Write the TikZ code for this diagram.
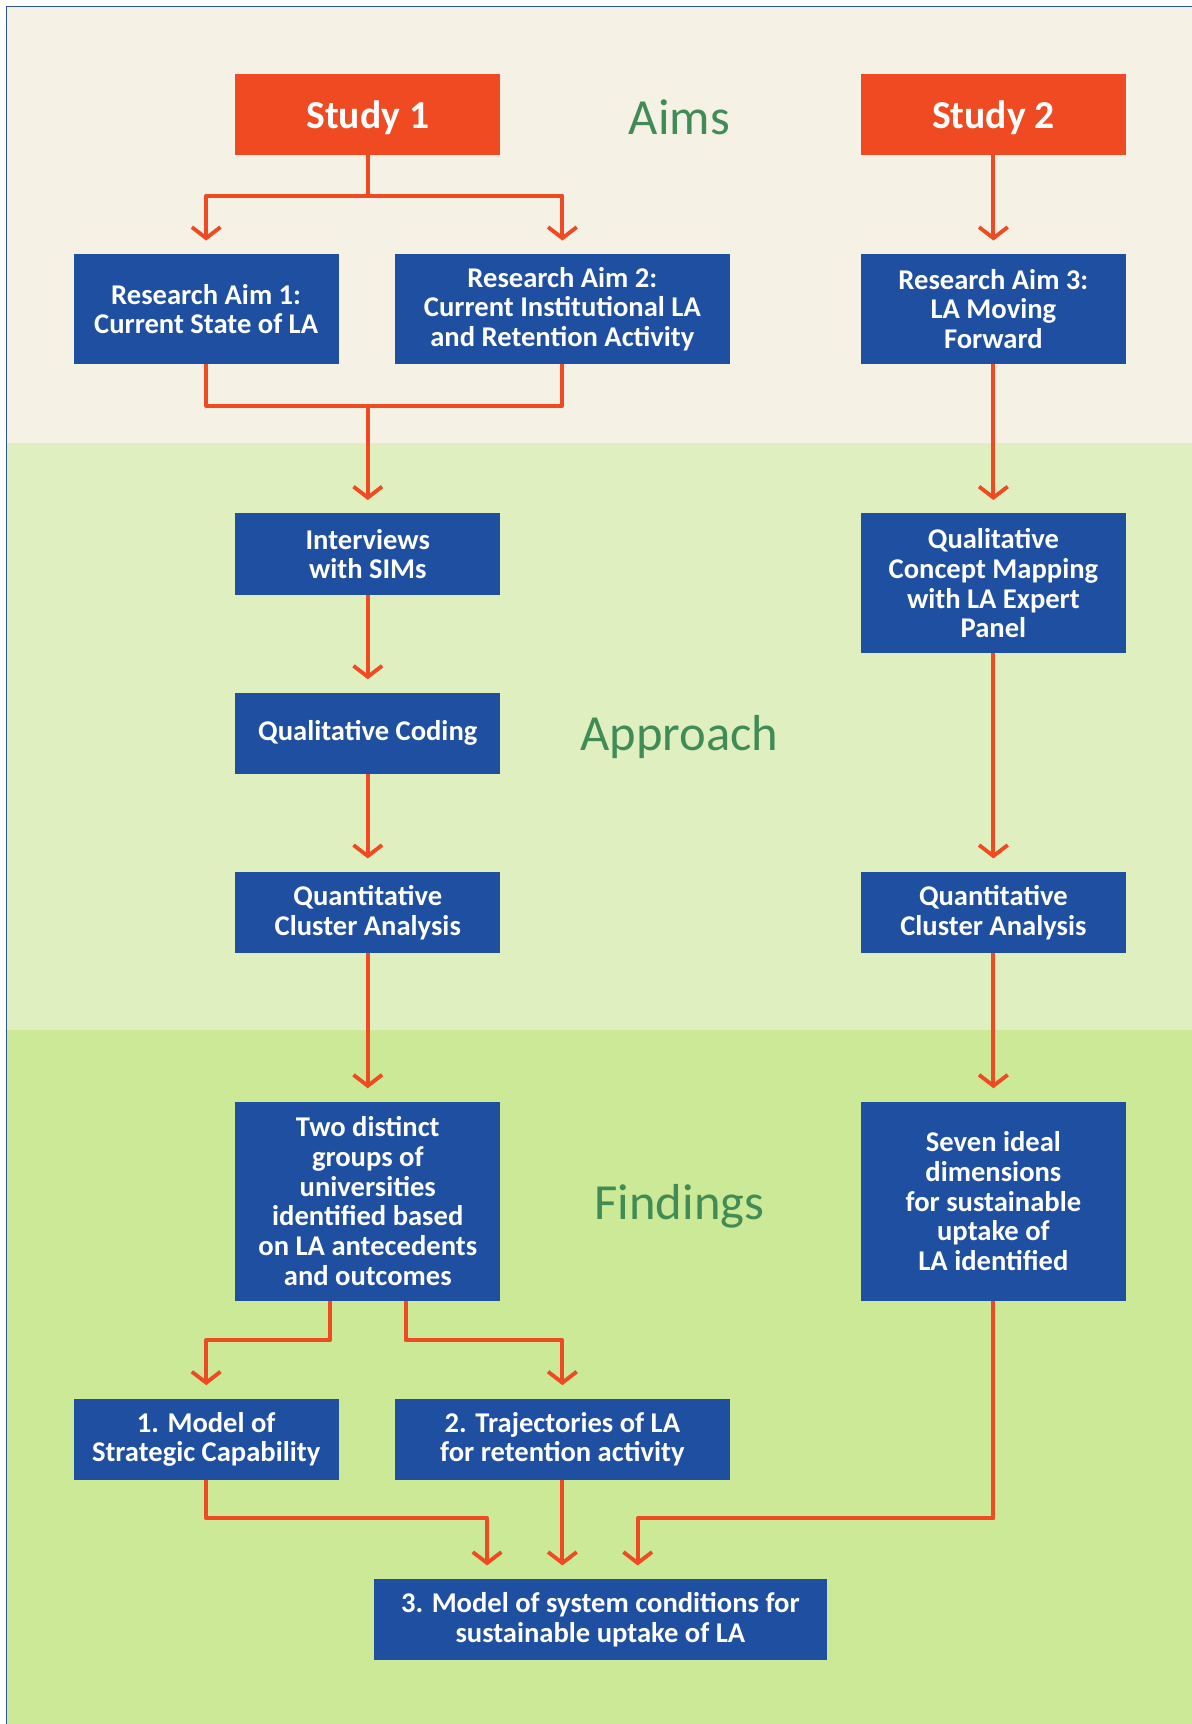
\documentclass[tikz,border=0pt]{standalone}
\usepackage{fontspec}
\setmainfont{Carlito}
\usetikzlibrary{arrows.meta}

\definecolor{studyred}{HTML}{EF4A21}
\definecolor{boxblue}{HTML}{1F4FA0}
\definecolor{bandcream}{HTML}{F5F1E5}
\definecolor{bandlight}{HTML}{E0EFC0}
\definecolor{bandgreen}{HTML}{CBE996}
\definecolor{labelgreen}{HTML}{418C56}
\definecolor{framblue}{HTML}{2F5597}

\tikzset{
  studybox/.style={fill=studyred, text=white, minimum width=241pt, minimum height=74pt,
    inner sep=0pt, text depth=0pt, font=\bfseries\fontsize{36}{40}\selectfont},
  aimbox/.style={fill=boxblue, text=white, minimum width=241pt, minimum height=74pt,
    inner sep=0pt, align=center, font=\bfseries\fontsize{26}{27}\selectfont},
  bandlabel/.style={text=labelgreen, font=\fontsize{46}{52}\selectfont},
  flow/.style={draw=studyred, line width=3.5pt, line join=round},
  arr/.style={flow, -{Straight Barb[length=10pt,width=26pt]}, shorten >=12pt},
}

\begin{document}
\begin{tikzpicture}[x=1pt,y=-1pt]
\useasboundingbox (0,0) rectangle (1084,1568);
% bands
\fill[bandcream] (6,6) rectangle (1084,403);
\fill[bandlight] (6,403) rectangle (1084,937);
\fill[bandgreen] (6,937) rectangle (1084,1568);
\draw[framblue, line width=1.5pt] (6,1568) -- (6,6) -- (1084,6);

% labels
\node[bandlabel] (aims) at (618,107) {Aims};
\node[bandlabel] (approach) at (618,670) {Approach};
\node[bandlabel] (findings) at (618,1097) {Findings};

% study 1
\node[studybox] (study1) at (334.5,104) {Study 1};
\node[aimbox, minimum height=100pt] (ra1) at (187.5,281) {Research Aim 1:\\Current State of LA};
\node[aimbox, minimum width=305pt, minimum height=100pt] (ra2) at (511.5,281) {Research Aim 2:\\Current Institutional LA\\and Retention Activity};
\node[aimbox] (interv) at (334.5,504) {Interviews\\with SIMs};
\node[aimbox] (qcode) at (334.5,667) {Qualitative Coding};
\node[aimbox] (qca1) at (334.5,830) {Quantitative\\Cluster Analysis};
\node[aimbox, minimum height=181pt] (twogrp) at (334.5,1092.5) {Two distinct\\groups of\\universities\\identified based\\on LA antecedents\\and outcomes};
\node[aimbox] (model1) at (187.5,1309) {1. Model of\\Strategic Capability};
\node[aimbox, minimum width=305pt] (traj) at (511.5,1309) {2. Trajectories of LA\\for retention activity};

% study 2
\node[studybox] (study2) at (903.5,104) {Study 2};
\node[aimbox, minimum height=100pt] (ra3) at (903.5,281) {Research Aim 3:\\LA Moving\\Forward};
\node[aimbox, minimum height=127pt] (qcm) at (903.5,530.5) {Qualitative\\Concept Mapping\\with LA Expert\\Panel};
\node[aimbox] (qca2) at (903.5,830) {Quantitative\\Cluster Analysis};
\node[aimbox, minimum height=181pt] (seven) at (903.5,1092.5) {Seven ideal\\dimensions\\for sustainable\\uptake of\\LA identified};

\node[aimbox, minimum width=412pt] (model3) at (546,1473) {3. Model of system conditions for\\sustainable uptake of LA};

% connectors
\coordinate (split1) at (334.5,178);
\coordinate (merge1) at (334.5,369);
\draw[flow] (study1.south) -- (split1);
\draw[arr] (split1) -| (ra1.north);
\draw[arr] (split1) -| (ra2.north);
\draw[flow] (ra1.south) |- (merge1);
\draw[flow] (ra2.south) |- (merge1);
\draw[arr] (merge1) -- (interv.north);
\draw[arr] (interv) -- (qcode);
\draw[arr] (qcode) -- (qca1);
\draw[arr] (qca1) -- (twogrp);

\coordinate (splitL) at (300,1219);
\coordinate (splitR) at (369,1219);
\draw[arr] (twogrp.south -| splitL) -- (splitL) -| (model1.north);
\draw[arr] (twogrp.south -| splitR) -- (splitR) -| (traj.north);

\draw[arr] (study2) -- (ra3);
\draw[arr] (ra3) -- (qcm);
\draw[arr] (qcm) -- (qca2);
\draw[arr] (qca2) -- (seven);

\coordinate (joinL) at (443,1381);
\coordinate (joinR) at (580,1381);
\draw[arr] (model1.south) |- (joinL) -- (joinL |- model3.north);
\draw[arr] (traj) -- (model3.north -| traj);
\draw[arr] (seven.south) |- (joinR) -- (joinR |- model3.north);
\end{tikzpicture}
\end{document}
